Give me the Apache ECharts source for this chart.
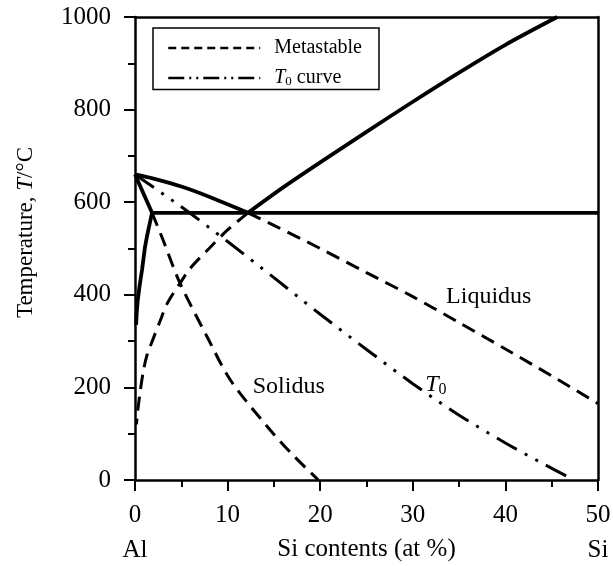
<!DOCTYPE html>
<html>
<head>
<meta charset="utf-8">
<script src="https://cdn.jsdelivr.net/npm/echarts@6/dist/echarts.min.js"></script>
<style>
html,body{margin:0;padding:0;background:#fff;}
#chart{width:613px;height:566px;}
</style>
</head>
<body>
<div id="chart"></div>
<script>
// ---- data (Si at%, temperature °C) ----
const liquidusAl = [[0,660],[2,651],[5,634],[8,612],[12.2,577]];
const solidusSolvus = [[0,660],[1.84,577],[1.6,555],[1.3,527],[1.08,503],[0.76,454],[0.5,420],[0.3,389],[0.18,360],[0.12,335]];
const eutectic = [[1.84,577],[50,577]];
const liquidusSi = [[12.2,577],[16,632],[20,686],[25,752],[30,817],[35,880],[40,940],[45.6,1000]];
const metaLiquidusAl = [[12.2,577],[15,550],[20,500],[25,448],[30,396],[35,340],[40,283],[45,225],[50,165]];
const metaSolidus = [[1.84,577],[3,520],[4.86,425],[7.8,309],[10.3,216],[14.3,115],[17,55],[19.8,0]];
const metaLiquidusSi = [[12.2,577],[10,540],[8,500],[6,458],[4.86,425],[3.5,382],[2.7,343],[2,307],[1.3,270],[0.9,235],[0.54,188],[0.3,150],[0.15,120]];
const t0Curve = [[0,660],[5,590],[10,515],[15,437],[20,358],[25,282],[30,208],[35,140],[40,80],[44,36],[47.4,0]];
const labelText = ['Liquidus','Solidus','T0'];
const labelX = [38.2,16.6,32.5];
const labelY = [395,201,205];
const legendNames = ['Metastable','T0 curve'];

const FONT = '"Liberation Serif", "Times New Roman", serif';
const solid = {color:'#000', width:3.8, type:'solid'};
const dashed = {color:'#000', width:3, type:[14,8]};
const dashDot = {color:'#000', width:3, type:[23,9,3,9,3,9]};

function lineSeries(name, data, style, smooth){
  return {type:'line', name:name, data:data, showSymbol:false, symbol:'none',
    smooth:smooth || false,
    lineStyle:style, itemStyle:{color:'#000'}, silent:true, animation:false,
    xAxisIndex:0, yAxisIndex:0};
}

const labelData = labelText.map((t,i)=>({name:t, value:[labelX[i], labelY[i]]}));

const chart = echarts.init(document.getElementById('chart'), null, {renderer:'canvas'});
chart.setOption({
  animation:false,
  backgroundColor:'#fff',
  grid:{left:135, right:15, top:17, bottom:86, containLabel:false, outerBoundsMode:'none'},
  legend:{
    data:[
      {name:legendNames[0], lineStyle:{width:2.5, type:[8,5]}, itemStyle:{opacity:0}},
      {name:legendNames[1], lineStyle:{width:2.5, type:[16,5,2,5,2,5]}, itemStyle:{opacity:0}}
    ],
    orient:'vertical', left:153, top:28,
    itemWidth:92, itemHeight:18, itemGap:10,
    itemStyle:{opacity:0},
    borderColor:'#000', borderWidth:1.5, borderRadius:0,
    padding:[10,17,1,14], backgroundColor:'#fff',
    selectedMode:false,
    formatter: n => n==='T0 curve' ? '{i|T}{s|0}{n| curve}' : '{m|' + n + '}',
    textStyle:{fontFamily:FONT, fontSize:20, color:'#000',
      rich:{
        m:{fontFamily:FONT, fontSize:20, color:'#000', padding:[0,0,0,9]},
        i:{fontFamily:FONT, fontSize:20, fontStyle:'italic', color:'#000', padding:[0,0,0,9]},
        s:{fontFamily:FONT, fontSize:13, color:'#000', verticalAlign:'bottom', padding:[8,0,0,0]},
        n:{fontFamily:FONT, fontSize:20, color:'#000'}
      }}
  },
  xAxis:[{
    type:'value', min:0, max:50, interval:10, position:'bottom',
    name:'Si contents (at %)', nameLocation:'middle', nameGap:57, nameMoveOverlap:false,
    nameTextStyle:{fontFamily:FONT, fontSize:25, color:'#000'},
    axisLine:{show:true, onZero:false, lineStyle:{color:'#000', width:2.5}},
    axisTick:{show:true, inside:false, length:11, lineStyle:{color:'#000', width:2}},
    minorTick:{show:true, splitNumber:2, length:7, lineStyle:{color:'#000', width:2}},
    axisLabel:{fontFamily:FONT, fontSize:25, color:'#000', margin:18, lineHeight:35,
      showMinLabel:true, showMaxLabel:true,
      formatter: v => v===0 ? '0\nAl' : (v===50 ? '50\nSi' : String(v))},
    splitLine:{show:false}
  },{
    type:'value', min:0, max:50, position:'top',
    axisLine:{show:true, onZero:false, lineStyle:{color:'#000', width:2.5}},
    axisTick:{show:false}, axisLabel:{show:false}, splitLine:{show:false}
  }],
  yAxis:[{
    type:'value', min:0, max:1000, interval:200, position:'left',
    name:'{a|Temperature, }{i|T}{a|/°C}', nameLocation:'middle', nameGap:98, nameRotate:90,
    nameMoveOverlap:false,
    nameTextStyle:{fontFamily:FONT, fontSize:23, color:'#000', padding:[0,0,0,32],
      rich:{a:{fontFamily:FONT, fontSize:23, color:'#000'}, i:{fontFamily:FONT, fontSize:23, fontStyle:'italic', color:'#000'}}},
    axisLine:{show:true, onZero:false, lineStyle:{color:'#000', width:2.5}},
    axisTick:{show:true, inside:false, length:11, lineStyle:{color:'#000', width:2}},
    minorTick:{show:true, splitNumber:2, length:7, lineStyle:{color:'#000', width:2}},
    axisLabel:{fontFamily:FONT, fontSize:25, color:'#000', margin:24, formatter: v => String(v)},
    splitLine:{show:false}
  },{
    type:'value', min:0, max:1000, position:'right',
    axisLine:{show:true, onZero:false, lineStyle:{color:'#000', width:2.5}},
    axisTick:{show:false}, axisLabel:{show:false}, splitLine:{show:false}
  }],
  series:[
    lineSeries('Liquidus (Al)', liquidusAl, solid, 0.3),
    lineSeries('Solidus/Solvus', solidusSolvus, solid, false),
    lineSeries('Eutectic', eutectic, solid, false),
    lineSeries('Liquidus (Si)', liquidusSi, solid, 0.3),
    lineSeries('Metastable', metaLiquidusAl, dashed, 0.3),
    lineSeries('Metastable', metaSolidus, dashed, 0.3),
    lineSeries('Metastable', metaLiquidusSi, dashed, 0.3),
    lineSeries('T0 curve', t0Curve, dashDot, 0.3),
    {
      type:'scatter', name:'labels', data:labelData, symbolSize:0,
      itemStyle:{color:'#000', opacity:1}, silent:true,
      label:{show:true, position:[0,0], align:'center', verticalAlign:'middle',
        color:'#000', opacity:1, textBorderWidth:0, fontFamily:FONT, fontSize:24,
        formatter: p => p.name==='T0' ? '{i|T}{s|0}' : '{t|' + p.name + '}',
        rich:{t:{fontFamily:FONT, fontSize:24, color:'#000'},
              i:{fontFamily:FONT, fontSize:24, fontStyle:'italic', color:'#000'},
              s:{fontFamily:FONT, fontSize:16, color:'#000', verticalAlign:'bottom', padding:[10,0,0,0]}}},
      emphasis:{disabled:true}
    }
  ]
});
</script>
</body>
</html>
